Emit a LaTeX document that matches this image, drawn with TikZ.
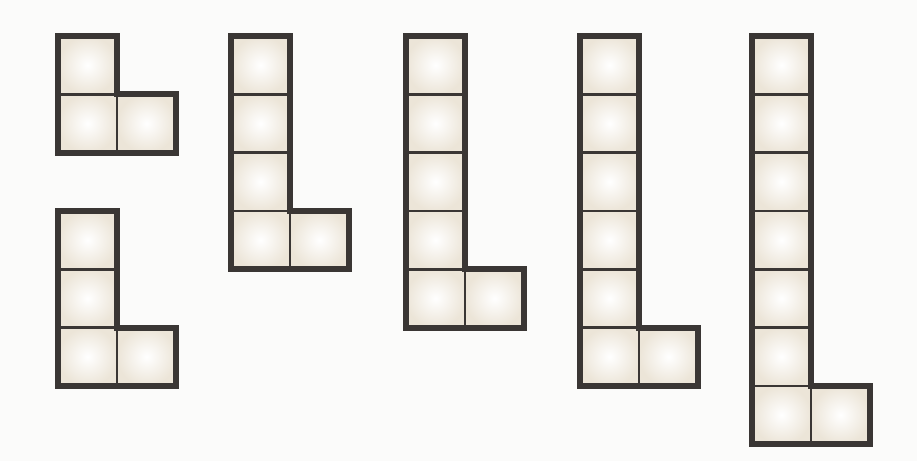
\documentclass[tikz,border=0pt]{standalone}
\usetikzlibrary{calc}
\definecolor{lkedge}{RGB}{58,54,52}
\definecolor{lkcell}{RGB}{236,229,216}
\definecolor{lkpaper}{RGB}{251,251,250}
\newcommand{\lkw}{59}
\newcommand{\lkh}{58.3}
\tikzset{
  lkcellbox/.style={
    draw=lkedge, line width=2.6pt, inner color=white, outer color=lkcell
  },
  lkrim/.style={draw=lkedge, line width=6pt, line join=miter},
  every picture/.append style={x=1pt, y=-1pt}
}
% L piece: top-left corner (#1,#2), #3 cells in the tall column
\newcommand{\lpiece}[3]{%
  \begin{scope}[shift={(#1,#2)}]
    \foreach \r in {1,...,#3}
      \path[lkcellbox] (0,{(\r-1)*\lkh}) rectangle (\lkw,{\r*\lkh});
    \path[lkcellbox] (\lkw,{(#3-1)*\lkh}) rectangle ({2*\lkw},{#3*\lkh});
    \draw[lkrim] (0,0) -- (\lkw,0) -- (\lkw,{(#3-1)*\lkh})
      -- ({2*\lkw},{(#3-1)*\lkh}) -- ({2*\lkw},{#3*\lkh}) -- (0,{#3*\lkh}) -- cycle;
  \end{scope}}

\begin{document}
\begin{tikzpicture}
  \useasboundingbox[fill=lkpaper] (0,0) rectangle (917,461);
  \lpiece{58}{36}{2}
  \lpiece{58}{211}{3}
  \lpiece{231}{36}{4}
  \lpiece{406}{36}{5}
  \lpiece{580}{36}{6}
  \lpiece{752}{36}{7}
\end{tikzpicture}
\end{document}
